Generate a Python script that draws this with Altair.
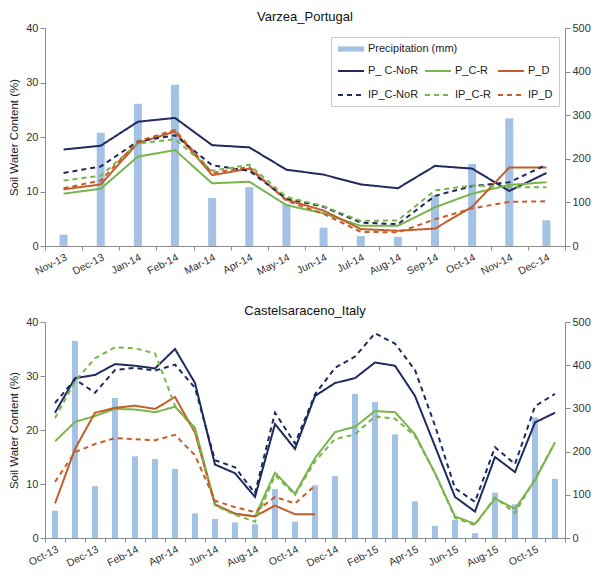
import altair as alt
import pandas as pd

FONT = "Liberation Sans"

# ---------------- Varzea_Portugal ----------------
top_months = ["Nov-13", "Dec-13", "Jan-14", "Feb-14", "Mar-14", "Apr-14", "May-14",
              "Jun-14", "Jul-14", "Aug-14", "Sep-14", "Oct-14", "Nov-14", "Dec-14"]
top_precip = [26, 260, 326, 370, 110, 135, 96, 42, 23, 21, 116, 188, 293, 59]
top_p_c_nor = [17.7, 18.4, 22.8, 23.5, 18.5, 18.1, 14.0, 13.1, 11.3, 10.6, 14.7, 14.2, 10.1, 13.4]
top_p_c_r = [9.6, 10.5, 16.4, 17.6, 11.5, 11.8, 7.5, 6.0, 3.7, 3.7, 7.1, 9.6, 11.2, 11.7]
top_p_d = [10.4, 11.3, 18.9, 21.0, 13.0, 14.2, 8.5, 6.5, 3.1, 2.8, 3.2, 7.2, 14.4, 14.4]
top_ip_c_nor = [13.4, 14.6, 19.2, 20.3, 14.8, 13.8, 8.7, 7.2, 4.3, 4.0, 9.2, 11.0, 11.7, 14.9]
top_ip_c_r = [12.0, 12.9, 18.8, 19.6, 13.8, 14.9, 9.0, 7.3, 4.6, 4.7, 10.2, 11.1, 10.8, 10.8]
top_ip_d = [10.6, 12.0, 19.2, 21.3, 13.4, 14.5, 8.3, 5.9, 2.6, 2.5, 4.9, 6.9, 8.1, 8.2]

# ---------------- Castelsaraceno_Italy ----------------
bot_months = ["Oct-13", "Nov-13", "Dec-13", "Jan-14", "Feb-14", "Mar-14", "Apr-14", "May-14",
              "Jun-14", "Jul-14", "Aug-14", "Sep-14", "Oct-14", "Nov-14", "Dec-14", "Jan-15",
              "Feb-15", "Mar-15", "Apr-15", "May-15", "Jun-15", "Jul-15", "Aug-15", "Sep-15",
              "Oct-15", "Nov-15"]
bot_labels = ["Oct-13", "Dec-13", "Feb-14", "Apr-14", "Jun-14", "Aug-14", "Oct-14",
              "Dec-14", "Feb-15", "Apr-15", "Jun-15", "Aug-15", "Oct-15"]
bot_precip = [63, 456, 120, 324, 189, 183, 160, 57, 44, 36, 32, 113, 38, 122, 143, 334,
              315, 240, 85, 28, 42, 11, 105, 78, 279, 137]
bot_p_c_nor = [23.2, 29.6, 30.2, 32.2, 31.9, 31.4, 35.0, 28.7, 13.6, 12.0, 7.6, 21.1, 16.5,
               26.3, 28.7, 29.6, 32.5, 31.9, 26.3, 17.0, 7.6, 4.9, 15.0, 12.2, 21.4, 23.2]
bot_ip_c_nor = [25.0, 29.4, 26.9, 31.1, 31.5, 31.0, 32.1, 27.8, 14.4, 13.1, 8.3, 23.2, 17.5,
                26.6, 31.5, 33.6, 37.9, 36.0, 31.1, 20.8, 9.2, 6.7, 16.8, 13.7, 24.4, 26.7]
bot_p_c_r = [17.9, 21.5, 22.6, 23.9, 23.8, 23.3, 24.3, 20.4, 6.2, 4.5, 4.0, 12.1, 8.2,
             14.8, 19.6, 20.6, 23.5, 23.3, 19.2, 12.0, 4.0, 2.6, 7.3, 5.4, 10.7, 17.7]
bot_ip_c_r = [22.2, 29.0, 33.3, 35.3, 35.1, 34.2, 24.5, 20.0, 6.0, 4.3, 3.0, 11.6, 8.0,
              14.2, 18.3, 19.2, 22.5, 22.1, 18.9, 12.0, 3.7, 2.4, 7.5, 4.6, 11.0, 17.7]
bot_p_d = [6.4, 16.5, 23.2, 24.1, 24.5, 23.9, 26.1, 19.5, 6.2, 4.5, 4.0, 6.0, 4.4, 4.4,
           None, None, None, None, None, None, None, None, None, None, None, None]
bot_ip_d = [10.4, 15.9, 17.4, 18.5, 18.3, 18.1, 19.1, 15.3, 6.9, 5.7, 4.8, 7.6, 6.4, 9.7,
            None, None, None, None, None, None, None, None, None, None, None, None]

series = ["P_ C-NoR", "P_C-R", "P_D", "IP_C-NoR", "IP_C-R", "IP_D"]
series_colors = ["#1f2a5e", "#78b54a", "#c45d28", "#1f2a5e", "#78b54a", "#c45d28"]
series_dashes = [[1, 0], [1, 0], [1, 0], [5, 4], [5, 4], [5, 4]]
precip_name = "Precipitation (mm)"
bar_color = "#a3c2e6"


def panel(title, months, precip, values, bar_size, height, show_legend, label_months=None):
    pdf = pd.DataFrame({"month": months, "precip": precip, "ptype": precip_name})
    rows = []
    for s, arr in zip(series, values):
        for m, v in zip(months, arr):
            if v is not None:
                rows.append({"month": m, "series": s, "value": v})
    ldf = pd.DataFrame(rows)

    axis_kw = dict(title=None, tickBand="extent", labelAngle=-27, labelAlign="right",
                   labelBaseline="top", tickSize=4, labelPadding=2, labelFontSize=10.5)
    if label_months is not None:
        lst = ",".join("'%s'" % m for m in label_months)
        axis_kw["labelExpr"] = "indexof([%s], datum.value) >= 0 ? datum.label : ''" % lst
    xenc = alt.X("month:N", sort=months,
                 scale=alt.Scale(paddingInner=0, paddingOuter=0),
                 axis=alt.Axis(**axis_kw))

    if show_legend:
        leg_a = alt.Legend(orient="none", legendX=292, legendY=7, title=None, padding=0,
                           symbolType="M-1,-0.2H1V0.2H-1Z", symbolSize=676,
                           labelFontSize=11, labelOffset=3)
        leg_b = alt.Legend(orient="none", legendX=286, legendY=9, title=" ",
                           titleFontSize=12, titlePadding=2, padding=6, direction="horizontal",
                           strokeColor="#c8c8c8", columns=3, columnPadding=2,
                           rowPadding=5, symbolType="stroke", symbolSize=676,
                           symbolStrokeWidth=2, labelFontSize=11, labelOffset=3)
    else:
        leg_a = None
        leg_b = None

    bars = alt.Chart(pdf).mark_bar(size=bar_size).encode(
        x=xenc,
        y=alt.Y("precip:Q", scale=alt.Scale(domain=[0, 500]),
                axis=alt.Axis(orient="right", values=[0, 100, 200, 300, 400, 500],
                              title=None, tickSize=5)),
        fill=alt.Fill("ptype:N", scale=alt.Scale(domain=[precip_name], range=[bar_color]),
                      legend=leg_a),
    )
    lines = alt.Chart(ldf).mark_line(strokeWidth=2).encode(
        x=xenc,
        y=alt.Y("value:Q", scale=alt.Scale(domain=[0, 40]),
                axis=alt.Axis(orient="left", values=[0, 10, 20, 30, 40],
                              title="Soil Water Content (%)", tickSize=5, titlePadding=6)),
        color=alt.Color("series:N", scale=alt.Scale(domain=series, range=series_colors),
                        legend=leg_b),
        strokeDash=alt.StrokeDash("series:N",
                                  scale=alt.Scale(domain=series, range=series_dashes),
                                  legend=leg_b),
    )
    return alt.layer(bars, lines).resolve_scale(y="independent").properties(
        width=520, height=height, title=alt.TitleParams(title)
    )


top_vals = [top_p_c_nor, top_p_c_r, top_p_d, top_ip_c_nor, top_ip_c_r, top_ip_d]
bot_vals = [bot_p_c_nor, bot_p_c_r, bot_p_d, bot_ip_c_nor, bot_ip_c_r, bot_ip_d]

top = panel("Varzea_Portugal", top_months, top_precip, top_vals, 8, 218, True)
bottom = panel("Castelsaraceno_Italy", bot_months, bot_precip, bot_vals, 6, 216, False, bot_labels)

chart = alt.vconcat(top, bottom, spacing=27).resolve_scale(
    color="independent", strokeDash="independent", fill="independent"
).properties(padding={"top": 3, "left": 0, "right": 0, "bottom": 0}).configure_view(
    stroke=None
).configure_axis(
    labelFont=FONT, titleFont=FONT, labelFontSize=11, titleFontSize=11.5,
    titleFontWeight="normal", labelColor="#333333", titleColor="#222222",
    domainColor="#8c8c8c", tickColor="#8c8c8c", grid=False
).configure_title(
    font=FONT, fontSize=13, fontWeight="normal", color="#111111", anchor="middle", offset=-2
).configure_legend(
    labelFont=FONT, labelColor="#222222", titleFont=FONT
)

chart.save("out.html", embed_options={"renderer": "svg", "actions": False})
